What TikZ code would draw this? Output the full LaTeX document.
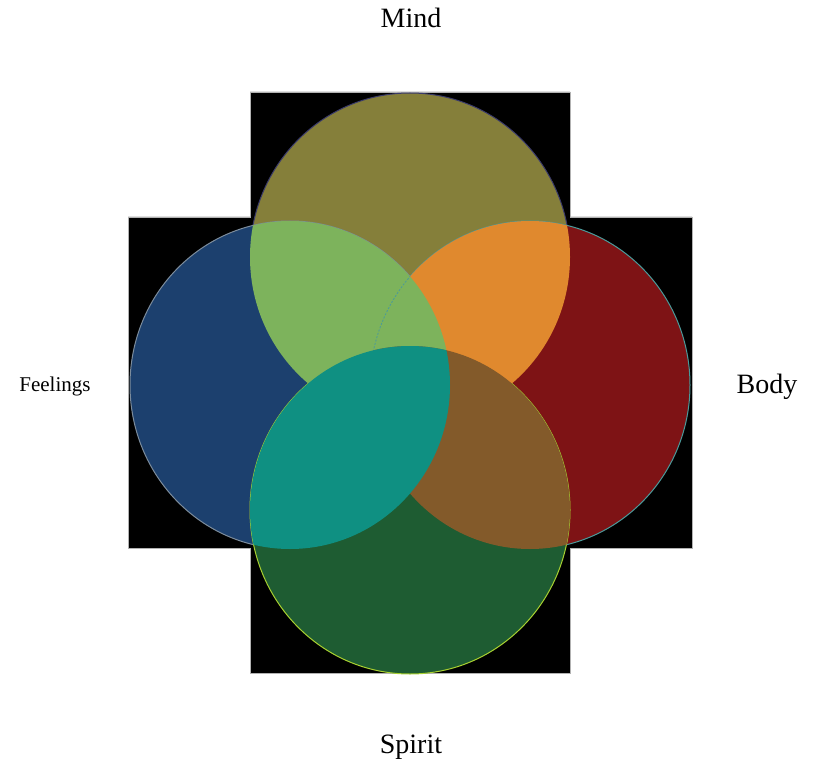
\documentclass[tikz,border=0pt]{standalone}
\usepackage{fontspec}
\setmainfont{Liberation Serif}
\definecolor{mindc}{HTML}{857F3A}
\definecolor{feelc}{HTML}{1C406E}
\definecolor{bodyc}{HTML}{7E1315}
\definecolor{spiritc}{HTML}{1E5C32}
\definecolor{mfc}{HTML}{7DB35C}
\definecolor{mbc}{HTML}{E0892E}
\definecolor{fsc}{HTML}{0F9082}
\definecolor{bsc}{HTML}{835A2A}
\definecolor{mindline}{HTML}{3A3A6A}
\definecolor{feelline}{HTML}{7C8C9C}
\definecolor{bodyline}{HTML}{4A9A9A}
\definecolor{spiritline}{HTML}{A8D030}
\tikzset{
  label/.style={inner sep=0pt, anchor=base, font=\fontsize{28}{30}\selectfont},
  smalllabel/.style={inner sep=0pt, anchor=base, font=\fontsize{21}{23}\selectfont},
  ring/.style={line width=1pt}
}
\begin{document}
\begin{tikzpicture}[x=1pt,y=-1pt]
\useasboundingbox (0,0) rectangle (814,770);
\def\MindShape{(410,257) ellipse [x radius=160, y radius=164]}
\def\FeelShape{(290,385) ellipse [x radius=160, y radius=164]}
\def\BodyShape{(530,385) ellipse [x radius=160, y radius=164]}
\def\SpiritShape{(410,510) ellipse [x radius=160, y radius=164]}
% black cross background
\filldraw[fill=black, draw=gray!60, line width=0.8pt]
  (250,92) -- (570,92) -- (570,217) -- (692,217) -- (692,548) -- (570,548)
  -- (570,673) -- (250,673) -- (250,548) -- (128,548) -- (128,217) -- (250,217) -- cycle;
% circles
\filldraw[ring, fill=mindc, draw=mindline] \MindShape;
\filldraw[ring, fill=feelc, draw=feelline] \FeelShape;
\filldraw[ring, fill=bodyc, draw=bodyline] \BodyShape;
\filldraw[ring, fill=spiritc, draw=spiritline] \SpiritShape;
% Mind & Body
\begin{scope}
  \clip \MindShape;
  \fill[mbc] \BodyShape;
\end{scope}
% Mind & Feelings
\begin{scope}
  \clip \MindShape;
  \fill[mfc] \FeelShape;
  \clip \FeelShape;
  \draw[bodyline, line width=0.8pt, dash pattern=on 2pt off 1.5pt] \BodyShape;
\end{scope}
% Body & Spirit
\begin{scope}
  \clip \SpiritShape;
  \fill[bsc] \BodyShape;
\end{scope}
% Feelings & Spirit
\begin{scope}
  \clip \SpiritShape;
  \fill[fsc] \FeelShape;
\end{scope}
% labels
\node[label] (mind) at (411,28) {Mind};
\node[label] (spirit) at (411,753) {Spirit};
\node[label] (body) at (767,393) {Body};
\node[smalllabel] (feelings) at (55,391) {Feelings};
\end{tikzpicture}
\end{document}
